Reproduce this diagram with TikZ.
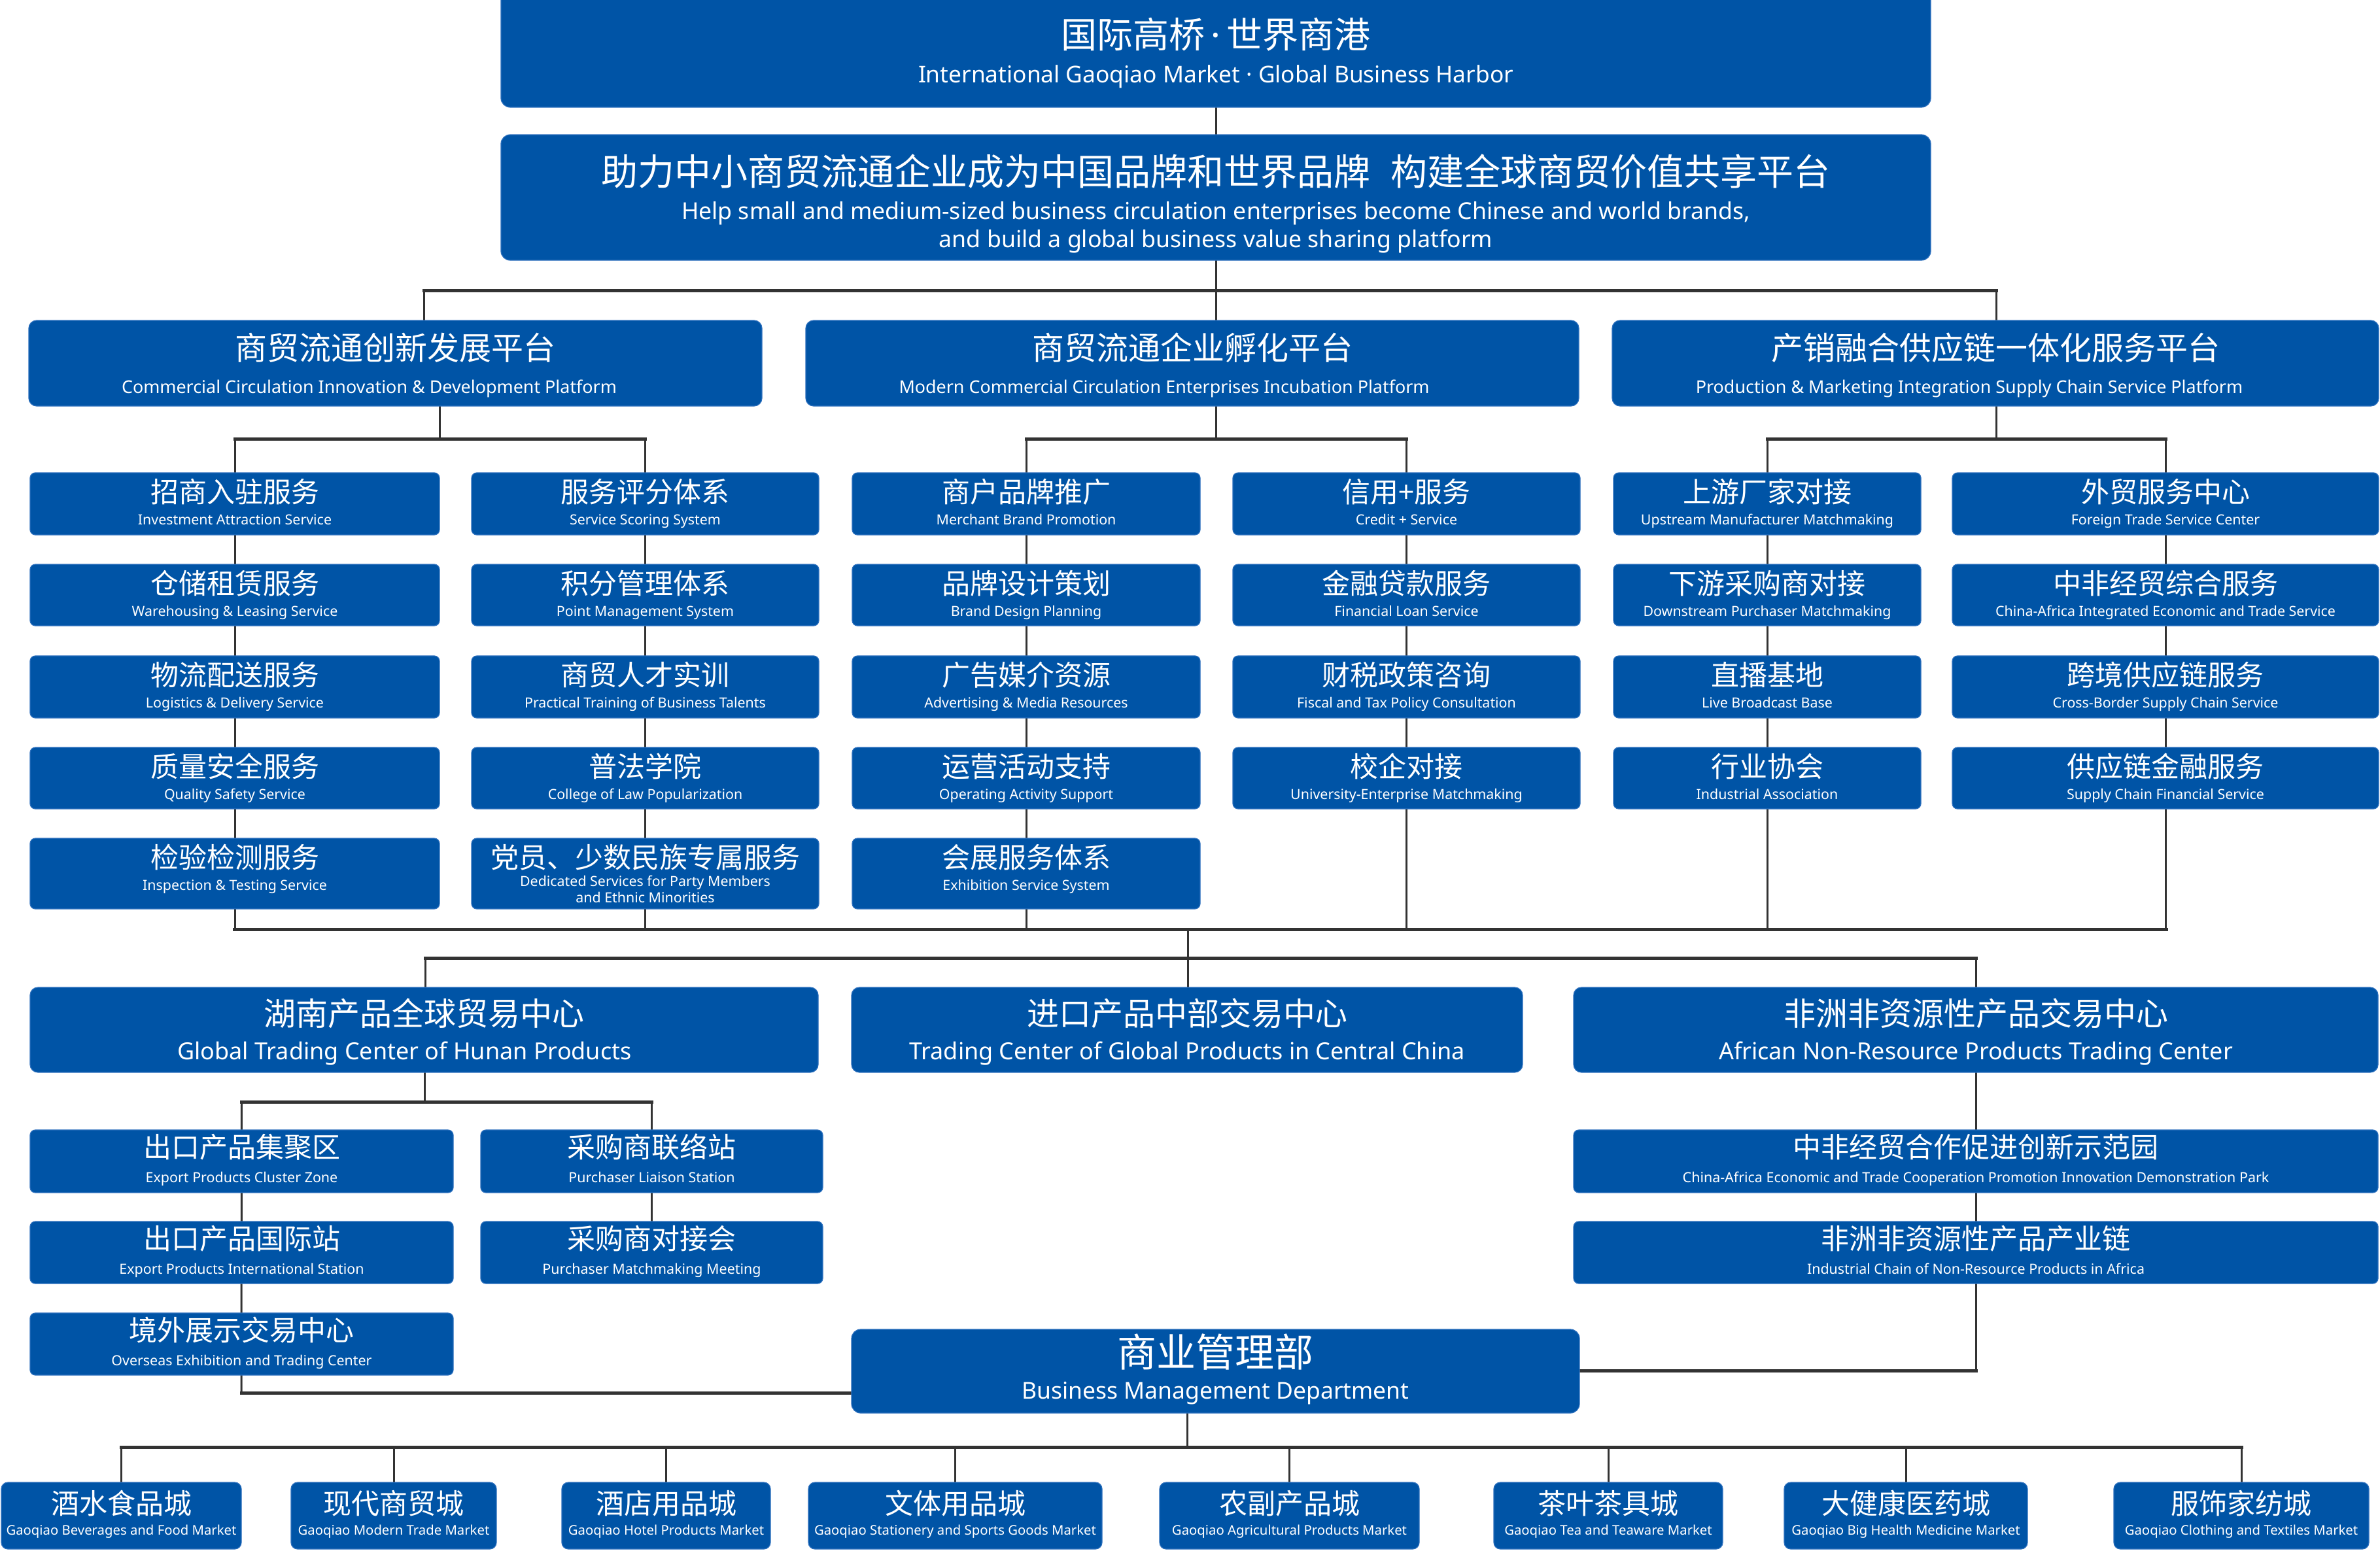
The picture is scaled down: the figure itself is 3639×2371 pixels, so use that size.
\documentclass[tikz,border=0pt]{standalone}
\usepackage{fontspec}
\newfontfamily\enf{Noto Sans}
\newfontfamily\cnf{Noto Sans CJK SC}
\usetikzlibrary{backgrounds}
\definecolor{cblue}{RGB}{0,84,166}
\definecolor{cedge}{RGB}{45,112,190}
\definecolor{cline}{RGB}{51,51,51}
\newsavebox\calbox
\makeatletter
\newcommand\calib[3]{\sbox\calbox{\enf\fontsize{10}{12}\selectfont #3}\edef\tmpw{\strip@pt\wd\calbox}\pgfmathsetmacro#1{10*#2/max(\tmpw,1)}}
\makeatother
\tikzset{
 box/.style={fill=cblue, draw=cedge, line width=1.2pt, rounded corners=#1, inner sep=0pt, outer sep=0pt, anchor=north west},
 box/.default=8pt,
 cn/.style={text=white, inner sep=0pt, anchor=base, font=\cnf\fontsize{#1}{#1}\selectfont},
 en/.style={text=white, inner sep=0pt, anchor=base, font=\enf\fontsize{#1}{#1}\selectfont},
 vl/.style={draw=cline, line width=3pt},
 hl/.style={draw=cline, line width=5pt, line cap=rect},
}
% name, x1, x2, y1, y2, radius
\newcommand\bx[6]{\node[box=#6, minimum width={#3-#2}, minimum height={#5-#4}] (#1) at (#2,#4) {};}
% service box: name, x1, x2, y1, y2, CN, EN
\newcommand\svcbox[7]{\bx{#1}{#2}{#3}{#4}{#5}{8pt}%
 \node[cn=43] (#1c) at ({(#2+#3)/2},{#4+45}) {#6};%
 \node[en=\szS] (#1e) at ({(#2+#3)/2},{#4+79}) {#7};}
% sub box: name, x1, x2, y1, y2, CN, EN
\newcommand\subbx[7]{\bx{#1}{#2}{#3}{#4}{#5}{8pt}%
 \node[cn=43] (#1c) at ({(#2+#3)/2},{#4+42}) {#6};%
 \node[en=\szSub] (#1e) at ({(#2+#3)/2},{#4+80}) {#7};}
% bottom box: name, x1, x2, CN, EN
\newcommand\botbx[5]{\bx{#1}{#2}{#3}{2267}{2369}{10pt}%
 \node[cn=43] (#1c) at ({(#2+#3)/2},2315) {#4};%
 \node[en=\szBot] (#1e) at ({(#2+#3)/2},2347) {#5};}
\begin{document}
\calib\szTop{910}{International Gaoqiao Market · Global Business Harbor}%
\calib\szGoal{1634}{Help small and medium-sized business circulation enterprises become Chinese and world brands,}%
\calib\szPlat{811}{Modern Commercial Circulation Enterprises Incubation Platform}%
\calib\szS{520}{China-Africa Integrated Economic and Trade Service}%
\calib\szCen{786}{African Non-Resource Products Trading Center}%
\calib\szSub{516}{Industrial Chain of Non-Resource Products in Africa}%
\calib\szBM{592}{Business Management Department}%
\calib\szBot{431}{Gaoqiao Stationery and Sports Goods Market}%
\begin{tikzpicture}[x=1pt,y=-1pt]
\useasboundingbox (0,0) rectangle (3639,2371);

% ---- top ----
\bx{top}{766}{2952}{-14}{164}{14pt}
\node[cn=55] (topc) at (1859,74) {国际高桥{\enf\,·\,}世界商港};
\node[en=\szTop] (tope) at (1859,127) {International Gaoqiao Market · Global Business Harbor};

\bx{goal}{766}{2952}{206}{398}{14pt}
\node[cn=56] (goalc) at (1859,283) {助力中小商贸流通企业成为中国品牌和世界品牌\hspace{0.55em}构建全球商贸价值共享平台};
\node[en=\szGoal] (goale1) at (1859,335) {Help small and medium-sized business circulation enterprises become Chinese and world brands,};
\node[en=\szGoal] (goale2) at (1859,378) {and build a global business value sharing platform};

% ---- platforms ----
\bx{p1}{44}{1165}{490}{621}{12pt}
\node[cn=49] (p1c) at (604.5,550) {商贸流通创新发展平台};
\node[en=\szPlat] (p1e) at (564.5,601) {Commercial Circulation Innovation \& Development Platform};
\bx{p2}{1232}{2414}{490}{621}{12pt}
\node[cn=49] (p2c) at (1823,550) {商贸流通企业孵化平台};
\node[en=\szPlat] (p2e) at (1780,601) {Modern Commercial Circulation Enterprises Incubation Platform};
\bx{p3}{2465}{3637}{490}{621}{12pt}
\node[cn=49] (p3c) at (3051,550) {产销融合供应链一体化服务平台};
\node[en=\szPlat] (p3e) at (3011,601) {Production \& Marketing Integration Supply Chain Service Platform};

% ---- services ----
\svcbox{sA1}{46}{672}{723}{818}{招商入驻服务}{Investment Attraction Service}
\svcbox{sA2}{46}{672}{863}{957}{仓储租赁服务}{Warehousing \& Leasing Service}
\svcbox{sA3}{46}{672}{1003}{1098}{物流配送服务}{Logistics \& Delivery Service}
\svcbox{sA4}{46}{672}{1143}{1237}{质量安全服务}{Quality Safety Service}
\svcbox{sA5}{46}{672}{1282}{1390}{检验检测服务}{Inspection \& Testing Service}

\svcbox{sB1}{721}{1252}{723}{818}{服务评分体系}{Service Scoring System}
\svcbox{sB2}{721}{1252}{863}{957}{积分管理体系}{Point Management System}
\svcbox{sB3}{721}{1252}{1003}{1098}{商贸人才实训}{Practical Training of Business Talents}
\svcbox{sB4}{721}{1252}{1143}{1237}{普法学院}{College of Law Popularization}
\bx{sB5}{721}{1252}{1282}{1390}{8pt}
\node[cn=43] (sB5c) at (986.5,1327) {党员、少数民族专属服务};
\node[en=\szS] (sB5e1) at (986.5,1355) {Dedicated Services for Party Members};
\node[en=\szS] (sB5e2) at (986.5,1380) {and Ethnic Minorities};

\svcbox{sC1}{1303}{1835}{723}{818}{商户品牌推广}{Merchant Brand Promotion}
\svcbox{sC2}{1303}{1835}{863}{957}{品牌设计策划}{Brand Design Planning}
\svcbox{sC3}{1303}{1835}{1003}{1098}{广告媒介资源}{Advertising \& Media Resources}
\svcbox{sC4}{1303}{1835}{1143}{1237}{运营活动支持}{Operating Activity Support}
\svcbox{sC5}{1303}{1835}{1282}{1390}{会展服务体系}{Exhibition Service System}

\svcbox{sD1}{1885}{2416}{723}{818}{信用+服务}{Credit + Service}
\svcbox{sD2}{1885}{2416}{863}{957}{金融贷款服务}{Financial Loan Service}
\svcbox{sD3}{1885}{2416}{1003}{1098}{财税政策咨询}{Fiscal and Tax Policy Consultation}
\svcbox{sD4}{1885}{2416}{1143}{1237}{校企对接}{University-Enterprise Matchmaking}

\svcbox{sE1}{2467}{2937}{723}{818}{上游厂家对接}{Upstream Manufacturer Matchmaking}
\svcbox{sE2}{2467}{2937}{863}{957}{下游采购商对接}{Downstream Purchaser Matchmaking}
\svcbox{sE3}{2467}{2937}{1003}{1098}{直播基地}{Live Broadcast Base}
\svcbox{sE4}{2467}{2937}{1143}{1237}{行业协会}{Industrial Association}

\svcbox{sF1}{2985}{3637}{723}{818}{外贸服务中心}{Foreign Trade Service Center}
\svcbox{sF2}{2985}{3637}{863}{957}{中非经贸综合服务}{China-Africa Integrated Economic and Trade Service}
\svcbox{sF3}{2985}{3637}{1003}{1098}{跨境供应链服务}{Cross-Border Supply Chain Service}
\svcbox{sF4}{2985}{3637}{1143}{1237}{供应链金融服务}{Supply Chain Financial Service}

% ---- centers ----
\bx{c1}{46}{1251}{1510}{1640}{12pt}
\node[cn=49] (c1c) at (648.5,1568) {湖南产品全球贸易中心};
\node[en=\szCen] (c1e) at (618.5,1620) {Global Trading Center of Hunan Products};
\bx{c2}{1302}{2328}{1510}{1640}{12pt}
\node[cn=49] (c2c) at (1815,1568) {进口产品中部交易中心};
\node[en=\szCen] (c2e) at (1815,1620) {Trading Center of Global Products in Central China};
\bx{c3}{2406}{3636}{1510}{1640}{12pt}
\node[cn=49] (c3c) at (3021,1568) {非洲非资源性产品交易中心};
\node[en=\szCen] (c3e) at (3021,1620) {African Non-Resource Products Trading Center};

\subbx{h11}{46}{693}{1728}{1824}{出口产品集聚区}{Export Products Cluster Zone}
\subbx{h12}{46}{693}{1868}{1963}{出口产品国际站}{Export Products International Station}
\subbx{h13}{46}{693}{2008}{2103}{境外展示交易中心}{Overseas Exhibition and Trading Center}
\subbx{h21}{735}{1258}{1728}{1824}{采购商联络站}{Purchaser Liaison Station}
\subbx{h22}{735}{1258}{1868}{1963}{采购商对接会}{Purchaser Matchmaking Meeting}
\subbx{a1}{2406}{3636}{1728}{1824}{中非经贸合作促进创新示范园}{China-Africa Economic and Trade Cooperation Promotion Innovation Demonstration Park}
\subbx{a2}{2406}{3636}{1868}{1963}{非洲非资源性产品产业链}{Industrial Chain of Non-Resource Products in Africa}

\bx{bm}{1302}{2415}{2033}{2161}{14pt}
\node[cn=60] (bmc) at (1858.5,2090) {商业管理部};
\node[en=\szBM] (bme) at (1858.5,2139) {Business Management Department};

% ---- bottom ----
\botbx{q1}{2}{369}{酒水食品城}{Gaoqiao Beverages and Food Market}
\botbx{q2}{445}{759}{现代商贸城}{Gaoqiao Modern Trade Market}
\botbx{q3}{859}{1178}{酒店用品城}{Gaoqiao Hotel Products Market}
\botbx{q4}{1236}{1685}{文体用品城}{Gaoqiao Stationery and Sports Goods Market}
\botbx{q5}{1773}{2170}{农副产品城}{Gaoqiao Agricultural Products Market}
\botbx{q6}{2284}{2634}{茶叶茶具城}{Gaoqiao Tea and Teaware Market}
\botbx{q7}{2728}{3100}{大健康医药城}{Gaoqiao Big Health Medicine Market}
\botbx{q8}{3232}{3622}{服饰家纺城}{Gaoqiao Clothing and Textiles Market}

% ---- connectors ----
\begin{scope}[on background layer]
\fill[white] (0,0) rectangle (3639,2371);
\draw[vl] (top.south) -- (goal.north);
\coordinate (j0) at (1859,444);
\coordinate (j0L) at (648,444);
\coordinate (j0R) at (3052,444);
\draw[vl] (goal.south) -- (j0);
\draw[hl] (j0L) -- (j0R);
\draw[vl] (j0L) -- (j0L |- p1.north);
\draw[vl] (j0) -- (j0 |- p2.north);
\draw[vl] (j0R) -- (j0R |- p3.north);

\coordinate (kL) at (672,671);
\coordinate (kM) at (1859,671);
\coordinate (kR) at (3052,671);
\draw[vl] (kL |- p1.south) -- (kL);
\draw[vl] (kM |- p2.south) -- (kM);
\draw[vl] (kR |- p3.south) -- (kR);
\coordinate (mL) at (358,1421);
\coordinate (mR) at (3312,1421);
\coordinate (mC) at (1816,1421);
\draw[hl] (sA1.north |- kL) -- (sB1.north |- kL);
\draw[hl] (sC1.north |- kM) -- (sD1.north |- kM);
\draw[hl] (sE1.north |- kR) -- (sF1.north |- kR);
\foreach \c in {sA1,sB1,sC1,sD1,sE1,sF1}{
  \draw[vl] (\c.north |- kL) -- (\c.north |- mL);
}
\draw[hl] (mL) -- (mR);
\coordinate (nL) at (650,1465);
\coordinate (nR) at (3021,1465);
\draw[vl] (mC) -- (mC |- c2.north);
\draw[hl] (nL) -- (nR);
\draw[vl] (nL) -- (nL |- c1.north);
\draw[vl] (nR) -- (nR |- c3.north);

\coordinate (hB) at (649,1685);
\draw[vl] (hB |- c1.south) -- (hB);
\draw[hl] (h11.north |- hB) -- (h21.north |- hB);
\coordinate (hE) at (369,2130);
\draw[vl] (h11.north |- hB) -- (hE);
\draw[hl] (hE) -- (hE -| bm.west);
\draw[vl] (h21.north |- hB) -- (h22.north);

\coordinate (aE) at (3021,2096);
\draw[vl] (c3.south) -- (aE);
\draw[hl] (aE) -- (aE -| bm.east);

\coordinate (zB) at (1815,2213);
\draw[vl] (zB |- bm.south) -- (zB);
\draw[hl] (q1.north |- zB) -- (q8.north |- zB);
\foreach \c in {q1,q2,q3,q4,q5,q6,q7,q8}{
  \draw[vl] (\c.north |- zB) -- (\c.north);
}
\end{scope}
\end{tikzpicture}
\end{document}
